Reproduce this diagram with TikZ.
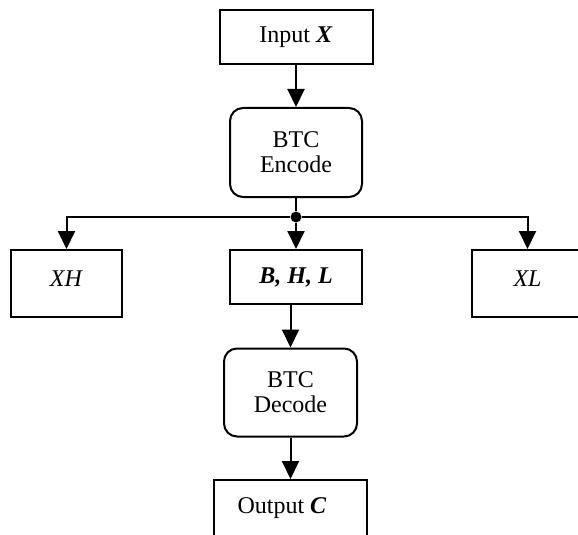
\documentclass[tikz,border=0pt]{standalone}
\usepackage{fontspec}
\setmainfont{Liberation Serif}
\usetikzlibrary{arrows.meta}
\begin{document}
\begin{tikzpicture}[x=0.5pt,y=-0.5pt,
  box/.style={draw, line width=1pt, inner sep=0pt, font=\fontsize{12pt}{12.5pt}\selectfont, align=center},
  rbox/.style={box, rounded corners=6.5pt},
  arr/.style={line width=1pt, -{Triangle[length=9pt,width=8.5pt]}},
  wire/.style={line width=1pt},
  dotnode/.style={circle, fill, inner sep=0pt, minimum size=5.5pt}]
\useasboundingbox (0,0) rectangle (578,535);
\clip (0,0) rectangle (578,535);
\node[box, minimum width=76.5pt, minimum height=27pt] (in) at (296,37) {Input \textbf{\textit{X}}};
\node[rbox, minimum width=66pt, minimum height=44.5pt] (enc) at (296,152.5) {BTC\\Encode};
\node[dotnode] (dot) at (296,217) {};
\node[box, minimum width=55.5pt, minimum height=33.5pt, text height=8pt, text depth=5.5pt] (xh) at (66.5,283.5) {\textit{XH}};
\node[box, minimum width=66pt, minimum height=27pt] (bhl) at (296,277) {\textbf{\textit{B, H, L}}};
\node[box, minimum width=55.5pt, minimum height=33.5pt, text height=8pt, text depth=5.5pt] (xl) at (527.5,283.5) {\textit{XL}};
\node[rbox, minimum width=66.5pt, minimum height=44pt] (dec) at (290.5,392.5) {BTC\\Decode};
\node[box, minimum width=76.5pt, minimum height=32.5pt, text height=8pt, text depth=7.5pt] (out) at (290.5,512.5) {Output \textbf{\textit{C}}\hspace{8.5pt}};
\draw[arr] (in) -- (enc);
\draw[wire] (enc) -- (dot);
\draw[arr] (dot) -- (bhl);
\draw[arr] (dot) -| (xh);
\draw[arr] (dot) -| (xl);
\draw[arr] (bhl.south -| dec.north) -- (dec);
\draw[arr] (dec) -- (out);
\end{tikzpicture}
\end{document}
